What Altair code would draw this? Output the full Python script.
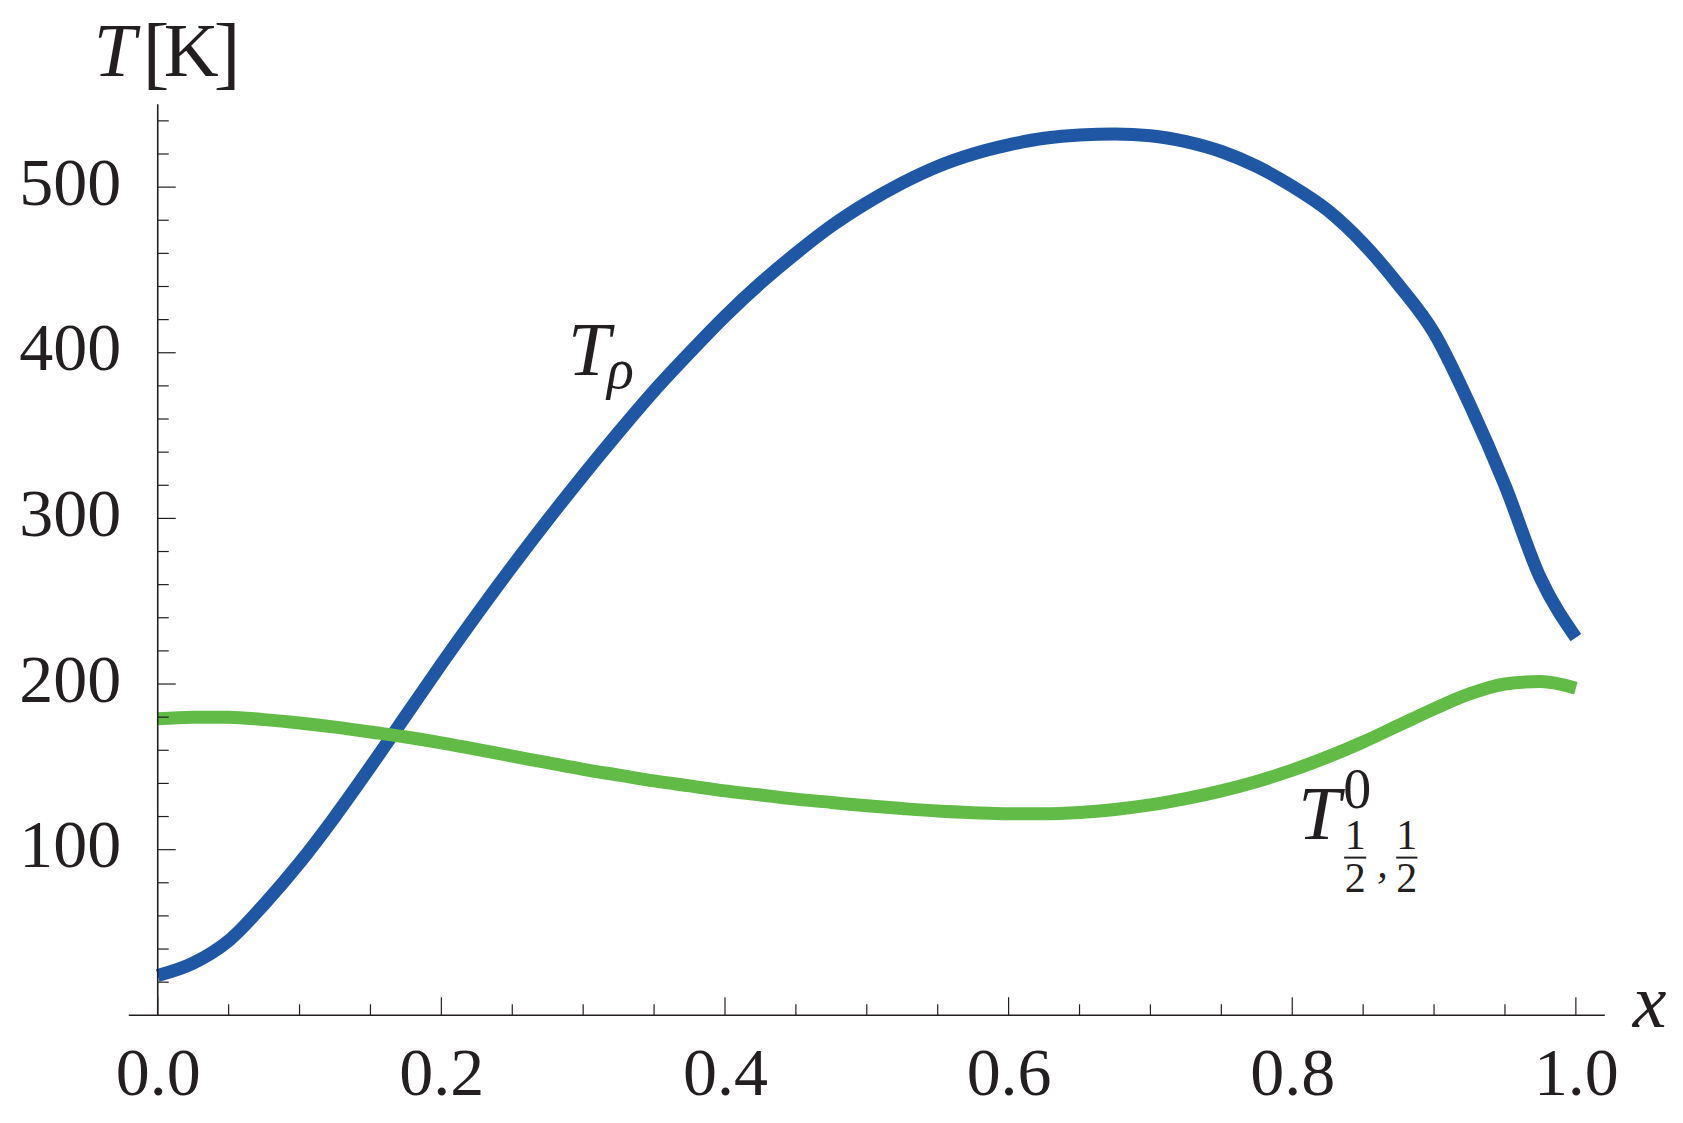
import altair as alt
import pandas as pd

# ---- data ----
x_vals = [0.0, 0.025, 0.05, 0.075, 0.1, 0.125, 0.15, 0.175, 0.2, 0.225, 0.25, 0.275,
          0.3, 0.325, 0.35, 0.375, 0.4, 0.425, 0.45, 0.475, 0.5, 0.525, 0.55, 0.575,
          0.6, 0.625, 0.65, 0.675, 0.7, 0.725, 0.75, 0.775, 0.8, 0.825, 0.85, 0.875,
          0.9, 0.925, 0.95, 0.975, 1.0]
t_rho = [24, 31.5, 45, 67, 92, 120, 150, 181, 212, 242, 271, 299,
         326, 352, 377, 400, 422, 442, 460, 476.5, 490.5, 502.5, 512.5, 520,
         525.5, 529.5, 531.5, 532, 531, 527.5, 521.5, 512.5, 500.5, 486, 466, 441,
         412, 369, 320, 264, 228]
t_half = [179, 180, 180, 178.5, 176.5, 174, 171, 168, 164.5, 160.5, 156.5, 152.5,
          148.5, 145, 141.5, 138.5, 135.5, 133, 130.5, 128.5, 126.5, 124.8, 123.3, 122.3,
          121.7, 121.7, 122.5, 124.3, 127, 130.8, 135.5, 141.2, 148, 156, 165, 175,
          185, 194, 200, 201.5, 197.5]

x_major = [0.0, 0.2, 0.4, 0.6, 0.8, 1.0]
x_minor = [0.05, 0.1, 0.15, 0.25, 0.3, 0.35, 0.45, 0.5, 0.55, 0.65, 0.7, 0.75,
           0.85, 0.9, 0.95]
y_major = [100, 200, 300, 400, 500]
y_minor = [20, 40, 60, 80, 120, 140, 160, 180, 220, 240, 260, 280, 320, 340, 360,
           380, 420, 440, 460, 480, 520, 540]

X_DOMAIN = [-0.0204, 1.0204]
Y_DOMAIN = [0, 550]
W, H = 1476, 911
FONT = "Liberation Serif"
INK = "#231f20"
BLUE = "#1f57a5"
GREEN = "#62bb46"

curves = pd.DataFrame({"x": x_vals * 2,
                       "T": t_rho + t_half,
                       "series": ["rho"] * len(x_vals) + ["half"] * len(x_vals)})

xs = alt.Scale(domain=X_DOMAIN, nice=False, zero=False)
ys = alt.Scale(domain=Y_DOMAIN, nice=False, zero=False)

base = alt.Chart(curves).encode(
    x=alt.X("x:Q", scale=xs,
            axis=alt.Axis(values=x_major, format=".1f", domain=False, ticks=False,
                          tickSize=0, grid=False, title=None, labelFont=FONT,
                          labelFontSize=68, labelColor=INK, labelPadding=25,
                          labelFlush=False)),
    y=alt.Y("T:Q", scale=ys,
            axis=alt.Axis(values=y_major, format="d", domain=False, ticks=False,
                          tickSize=0, grid=False, title=None, labelFont=FONT,
                          labelFontSize=68, labelColor=INK, labelPadding=8,
                          labelOffset=-3, labelFlush=False)),
)

lines = base.mark_line(strokeWidth=13, strokeCap="butt", strokeJoin="round",
                       interpolate="monotone").encode(
    color=alt.Color("series:N", scale=alt.Scale(domain=["rho", "half"],
                                                range=[BLUE, GREEN]), legend=None),
    order="x:Q",
)

# axis lines
x_axis_line = alt.Chart(pd.DataFrame({"y": [0]})).mark_rule(
    color=INK, strokeWidth=1.6).encode(
    y=alt.Y("y:Q", scale=ys), x=alt.value(0), x2=alt.value(W))
y_axis_line = alt.Chart(pd.DataFrame({"x": [0]})).mark_rule(
    color=INK, strokeWidth=1.6).encode(
    x=alt.X("x:Q", scale=xs), y=alt.value(0), y2=alt.value(H))

def xticks(vals, length):
    return alt.Chart(pd.DataFrame({"x": vals})).mark_rule(
        color=INK, strokeWidth=1.2, y2Offset=-length).encode(
        x=alt.X("x:Q", scale=xs), y=alt.Y("y0:Q", scale=ys),
        y2=alt.Y2("y0:Q")).transform_calculate(y0="0")

def yticks(vals, length):
    return alt.Chart(pd.DataFrame({"y": vals})).mark_rule(
        color=INK, strokeWidth=1.2, x2Offset=length).encode(
        y=alt.Y("y:Q", scale=ys), x=alt.X("x0:Q", scale=xs),
        x2=alt.X2("x0:Q")).transform_calculate(x0="0")

# in-plot labels (data coordinates)
lab = pd.DataFrame({
    "x":    [0.2893, 0.3168, 0.8042, 0.8359, 0.8444, 0.8444, 0.8600, 0.8808, 0.8808],
    "y":    [386.7, 379.0, 106.6, 125.3, 100.3, 74.7, 83.5, 100.3, 74.7],
    "text": ["T", "ρ", "T", "0", "1", "2", ",", "1", "2"],
    "size": [76, 56, 76, 56, 42, 42, 42, 42, 42],
    "style": ["italic", "italic", "italic", "normal", "normal", "normal", "italic",
              "normal", "normal"],
    "align": ["left", "left", "left", "left", "center", "center", "left", "center",
              "center"],
})

def label_layer(df):
    layers = []
    for st in ["italic", "normal"]:
        for al in ["left", "center"]:
            sub = df[(df["style"] == st) & (df["align"] == al)]
            if len(sub) == 0:
                continue
            layers.append(alt.Chart(sub).mark_text(
                font=FONT, fontStyle=st, align=al, baseline="alphabetic",
                color=INK).encode(
                x=alt.X("x:Q", scale=xs), y=alt.Y("y:Q", scale=ys),
                text="text:N", size=alt.Size("size:Q", scale=None, legend=None)))
    return layers

bars = pd.DataFrame({"x": [0.8366, 0.8733], "x2": [0.8522, 0.8882], "y": [95.2, 95.2]})
frac_bars = alt.Chart(bars).mark_rule(color=INK, strokeWidth=2).encode(
    x=alt.X("x:Q", scale=xs), x2="x2:Q", y=alt.Y("y:Q", scale=ys))

# axis titles (pixel positions relative to the plot area)
def title_text(t, x, y, style="normal", size=76):
    return alt.Chart(pd.DataFrame({"t": [t]})).mark_text(
        font=FONT, fontStyle=style, fontSize=size, align="left",
        baseline="alphabetic", color=INK).encode(
        x=alt.value(x), y=alt.value(y), text="t:N")

titles = [
    title_text("T", -35, -28, "italic"),
    title_text("[", 14, -25, size=80),
    title_text("K", 35, -28),
    title_text("]", 85, -25, size=80),
    title_text("x", 1504, 923, "italic"),
]

chart = alt.layer(
    lines, x_axis_line, y_axis_line,
    xticks(x_major, 18), xticks(x_minor, 11),
    yticks(y_major, 18), yticks(y_minor, 11),
    *label_layer(lab), frac_bars, *titles,
).properties(
    width=W, height=H,
    autosize=alt.AutoSizeParams(type="none"),
    padding={"left": 120.8, "top": 96.3, "right": 70, "bottom": 100},
    background="white",
).configure_view(stroke=None)

chart.save("out.html", embed_options={"renderer": "svg", "actions": False})
